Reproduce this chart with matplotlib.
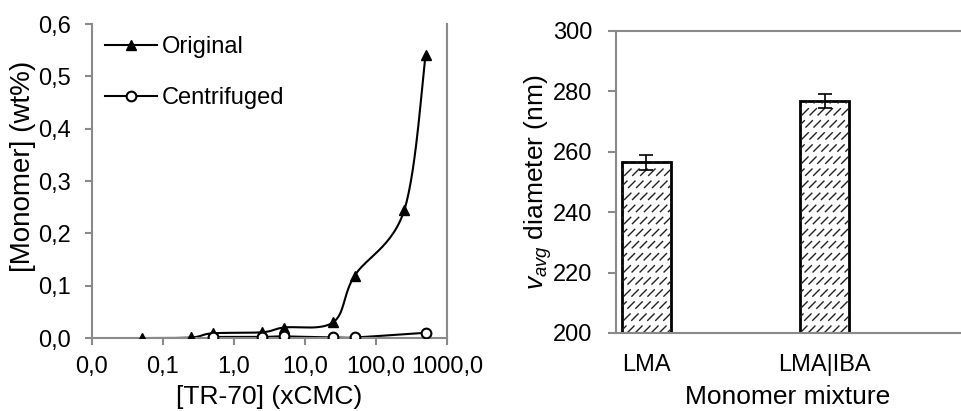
import numpy as np
import matplotlib
matplotlib.use('Agg')
import matplotlib.pyplot as plt
from matplotlib.ticker import FixedLocator, FuncFormatter
from matplotlib.transforms import IdentityTransform

# left panel: monomer content vs surfactant concentration
orig_x = [0.05, 0.25, 0.5, 2.5, 5, 25, 50, 250, 500]
orig_y = [0.0, 0.001, 0.009, 0.011, 0.020, 0.030, 0.119, 0.244, 0.540]
cent_x = [0.5, 2.5, 5, 25, 50, 500]
cent_y = [0.002, 0.002, 0.003, 0.001, 0.001, 0.010]
log_ticks = [0.01, 0.1, 1, 10, 100, 1000]
mono_ticks = [0.0, 0.1, 0.2, 0.3, 0.4, 0.5, 0.6]

# right panel: particle diameter by monomer mixture
mixtures = ['LMA', 'LMA|IBA']
diam = [256.5, 276.8]
diam_err = [2.4, 2.2]
diam_ticks = [200, 220, 240, 260, 280, 300]

plt.rcParams['font.family'] = ['Liberation Sans', 'DejaVu Sans']
plt.rcParams['mathtext.fontset'] = 'custom'
plt.rcParams['mathtext.rm'] = 'Liberation Sans'
plt.rcParams['mathtext.it'] = 'Liberation Sans:italic'
FS = 17     # tick labels / legend
LFS = 19    # axis titles
GRAY = '#8a8a8a'


def comma(v, pos=None):
    return '{:.1f}'.format(v).replace('.', ',')


def excel_smooth(ax, xs, ys, n=30):
    # Excel-style smoothed line: Catmull-Rom through the points, in pixel space
    pts = ax.transData.transform(np.column_stack([xs, ys]))
    p = np.vstack([pts[0], pts, pts[-1]])
    out = []
    for i in range(1, len(p) - 2):
        p0, p1, p2, p3 = p[i - 1], p[i], p[i + 1], p[i + 2]
        c1 = p1 + (p2 - p0) / 6
        c2 = p2 - (p3 - p1) / 6
        t = np.linspace(0, 1, n)[:, None]
        seg = ((1 - t) ** 3) * p1 + 3 * ((1 - t) ** 2) * t * c1 + 3 * (1 - t) * t ** 2 * c2 + t ** 3 * p2
        out.append(seg)
    out = np.vstack(out)
    d = ax.transData.inverted().transform(out)
    return d[:, 0], d[:, 1]


def dashed_fill(ax, patch, step=8):
    # excel "dashed upward diagonal" pattern, clipped to the bar
    (x0, y0), (x1, y1) = ax.transData.transform(patch.get_bbox().get_points())
    h = y1 - y0
    for xs in np.arange(x0 - h, x1 + step, step):
        ln, = ax.plot([xs, xs + h], [y0, y0 + h], transform=IdentityTransform(),
                      color='#222222', lw=1.0, dashes=(7.5, 4.8), zorder=2.5)
        ln.set_clip_path(patch)


fig = plt.figure(figsize=(9.61, 4.11), dpi=100)

# ---- left panel
ax = fig.add_axes([0.0957, 0.1776, 0.3694, 0.764])
ax.set_xscale('log')
ax.set_xlim(0.01, 1000)
ax.set_ylim(0, 0.6)

sx, sy = excel_smooth(ax, orig_x, orig_y)
ax.plot(sx, sy, color='black', lw=1.5, zorder=2)
ax.plot(orig_x, orig_y, ls='none', marker='^', ms=7, color='black', zorder=3)
sx, sy = excel_smooth(ax, cent_x, cent_y)
ax.plot(sx, sy, color='black', lw=1.5, zorder=2)
ax.plot(cent_x, cent_y, ls='none', marker='o', ms=7, mfc='white', mec='black', mew=1.5, zorder=3)

# legend proxies
ax.plot([], [], color='black', lw=1.5, marker='^', ms=7, label='Original')
ax.plot([], [], color='black', lw=1.5, marker='o', ms=7, mfc='white', mew=1.5, label='Centrifuged')
ax.legend(loc='upper left', bbox_to_anchor=(-0.01, 1.015), frameon=False, fontsize=FS,
          handlelength=2.2, handletextpad=0.2, labelspacing=1.25, borderaxespad=0.3)

ax.xaxis.set_major_locator(FixedLocator(log_ticks))
ax.xaxis.set_minor_locator(FixedLocator([]))
ax.xaxis.set_major_formatter(FuncFormatter(comma))
ax.yaxis.set_major_locator(FixedLocator(mono_ticks))
ax.yaxis.set_major_formatter(FuncFormatter(comma))
ax.spines['top'].set_visible(False)
for s in ['left', 'bottom', 'right']:
    ax.spines[s].set_color(GRAY)
    ax.spines[s].set_linewidth(1.5)
ax.tick_params(axis='both', labelsize=FS, color=GRAY, width=1.5, length=5, direction='out')
ax.tick_params(axis='x', pad=8)
ax.tick_params(axis='y', pad=10)
ax.set_xlabel('[TR-70] (xCMC)', fontsize=LFS, labelpad=5)
ax.set_ylabel('[Monomer] (wt%)', fontsize=20)
ax.yaxis.set_label_coords(-0.158, 0.545)

# ---- right panel
bx = fig.add_axes([0.641, 0.190, 0.358, 0.7348])
pos = np.arange(len(mixtures))
bx.set_xlim(-0.17, 1.76)
bx.set_ylim(200, 300)
bars = bx.bar(pos, np.array(diam) - 200, bottom=200, width=0.275, color='white',
              edgecolor='black', linewidth=2, zorder=2)
for b in bars:
    dashed_fill(bx, b)
bx.errorbar(pos, diam, yerr=diam_err, fmt='none', ecolor='black', elinewidth=1.2,
            capsize=5, capthick=1.2, zorder=3)
bx.set_xticks(pos)
bx.set_xticklabels(mixtures)
bx.yaxis.set_major_locator(FixedLocator(diam_ticks))
bx.spines['right'].set_visible(False)
for s in ['left', 'bottom', 'top']:
    bx.spines[s].set_color(GRAY)
    bx.spines[s].set_linewidth(1.5)
bx.tick_params(axis='y', labelsize=FS, color=GRAY, width=1.5, length=6, pad=11)
bx.tick_params(axis='x', labelsize=FS, length=0, pad=15)
bx.set_xlabel('Monomer mixture', fontsize=LFS, labelpad=7)
bx.set_ylabel(r'$v_{avg}$ diameter (nm)', fontsize=LFS, labelpad=-1)

fig.savefig('out.png', dpi=100)
